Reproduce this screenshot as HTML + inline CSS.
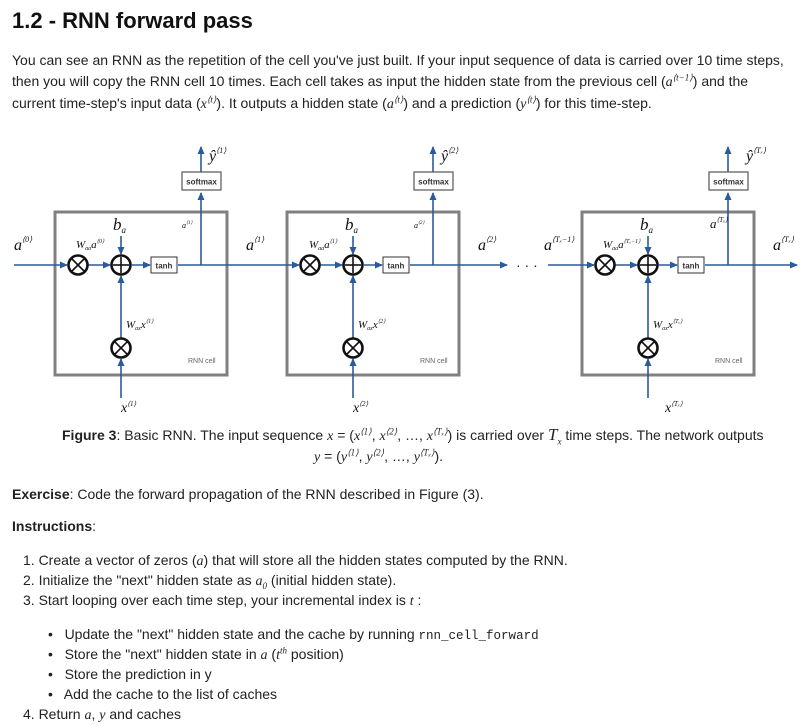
<!DOCTYPE html>
<html><head><meta charset="utf-8"><style>
body{margin:0;background:#fff;width:803px;height:726px;overflow:hidden;position:relative;font-family:"Liberation Sans",Arial,sans-serif;color:#222;}
.t{position:absolute;white-space:nowrap;font-size:14px;line-height:16px;}
.m{font-family:"Liberation Serif",serif;font-style:italic;}
sup,sub{font-size:9px;line-height:0;}
h1{position:absolute;left:12px;top:8px;margin:0;font-size:22px;font-weight:bold;color:#111;}
code{font-family:"Liberation Mono",monospace;font-size:12.5px;}
</style></head><body>
<h1>1.2 - RNN forward pass</h1>
<div class="t" style="left:12px;top:52px">You can see an RNN as the repetition of the cell you've just built. If your input sequence of data is carried over 10 time steps,</div>
<div class="t" style="left:12px;top:73px">then you will copy the RNN cell 10 times. Each cell takes as input the hidden state from the previous cell (<span class="m">a</span><sup class="m">⟨t−1⟩</sup>) and the</div>
<div class="t" style="left:12px;top:95px">current time-step's input data (<span class="m">x</span><sup class="m">⟨t⟩</sup>). It outputs a hidden state (<span class="m">a</span><sup class="m">⟨t⟩</sup>) and a prediction (<span class="m">y</span><sup class="m">⟨t⟩</sup>) for this time-step.</div>

<svg style="position:absolute;left:0;top:0" width="803" height="420">
<defs>
<marker id="ar" markerWidth="8" markerHeight="8" refX="7" refY="4" orient="auto" markerUnits="userSpaceOnUse"><path d="M0,0.5 L8,4 L0,7.5z" fill="#2a5b9a"/></marker>
<g id="cell">
<rect x="55" y="212" width="172" height="163" fill="none" stroke="#808080" stroke-width="3"/>
<g stroke="#2a5b9a" stroke-width="1.6" fill="none">
<line x1="88" y1="265" x2="110" y2="265" marker-end="url(#ar)"/>
<line x1="132" y1="265" x2="150" y2="265" marker-end="url(#ar)"/>
<line x1="178" y1="265" x2="201" y2="265"/>
<line x1="201" y1="265" x2="201" y2="193" marker-end="url(#ar)"/>
<line x1="201" y1="172" x2="201" y2="147" marker-end="url(#ar)"/>
<line x1="121" y1="236" x2="121" y2="254" marker-end="url(#ar)"/>
<line x1="121" y1="338" x2="121" y2="276" marker-end="url(#ar)"/>
<line x1="121" y1="398" x2="121" y2="359" marker-end="url(#ar)"/>
</g>
<g stroke="#111" stroke-width="2.6" fill="#fff">
<circle cx="78" cy="265" r="9.5"/><circle cx="121" cy="265" r="9.5"/><circle cx="121" cy="348" r="9.5"/>
</g>
<g stroke="#111" stroke-width="1.6">
<line x1="71.5" y1="258.5" x2="84.5" y2="271.5"/><line x1="84.5" y1="258.5" x2="71.5" y2="271.5"/>
<line x1="114.5" y1="341.5" x2="127.5" y2="354.5"/><line x1="127.5" y1="341.5" x2="114.5" y2="354.5"/>
<line x1="121" y1="257" x2="121" y2="273"/><line x1="113" y1="265" x2="129" y2="265"/>
</g>
<rect x="151" y="257" width="26" height="16" fill="#fff" stroke="#333" stroke-width="1"/>
<text x="164" y="268.5" font-size="8" font-weight="bold" text-anchor="middle" fill="#333" font-family="Liberation Sans">tanh</text>
<rect x="182" y="172" width="39" height="18" fill="#fff" stroke="#555" stroke-width="1.2"/>
<text x="201.5" y="184.5" font-size="8" font-weight="bold" text-anchor="middle" fill="#333" font-family="Liberation Sans">softmax</text>
<text x="188" y="363" font-size="7" fill="#666" font-family="Liberation Sans">RNN cell</text>
<text x="113" y="230" font-size="17" font-style="italic" font-family="Liberation Serif" fill="#111">b<tspan font-size="9" dy="3">a</tspan></text>
</g>
</defs>
<use href="#cell"/>
<use href="#cell" transform="translate(232,0)"/>
<use href="#cell" transform="translate(527,0)"/>
<g stroke="#2a5b9a" stroke-width="1.6">
<line x1="14" y1="265" x2="67" y2="265" marker-end="url(#ar)"/>
<line x1="201" y1="265" x2="299" y2="265" marker-end="url(#ar)"/>
<line x1="433" y1="265" x2="507" y2="265" marker-end="url(#ar)"/>
<line x1="548" y1="265" x2="594" y2="265" marker-end="url(#ar)"/>
<line x1="728" y1="265" x2="797" y2="265" marker-end="url(#ar)"/>
</g>
<text x="516" y="270" font-size="14" fill="#222">· · ·</text>
<g font-family="Liberation Serif" font-style="italic" fill="#111">
<text x="14" y="250" font-size="16">a<tspan font-size="8" dy="-8">⟨0⟩</tspan></text>
<text x="76" y="248" font-size="11">W<tspan font-size="6" dy="2">aa</tspan><tspan dy="-2">a</tspan><tspan font-size="6" dy="-5">⟨0⟩</tspan></text>
<text x="246" y="250" font-size="16">a<tspan font-size="8" dy="-8">⟨1⟩</tspan></text>
<text x="309" y="248" font-size="11">W<tspan font-size="6" dy="2">aa</tspan><tspan dy="-2">a</tspan><tspan font-size="6" dy="-5">⟨1⟩</tspan></text>
<text x="478" y="250" font-size="16">a<tspan font-size="8" dy="-8">⟨2⟩</tspan></text>
<text x="544" y="250" font-size="16">a<tspan font-size="8" dy="-8">⟨Tₓ−1⟩</tspan></text>
<text x="603" y="248" font-size="11">W<tspan font-size="6" dy="2">aa</tspan><tspan dy="-2">a</tspan><tspan font-size="6" dy="-5">⟨Tₓ−1⟩</tspan></text>
<text x="773" y="250" font-size="16">a<tspan font-size="8" dy="-8">⟨Tₓ⟩</tspan></text>
<text x="126" y="328" font-size="11">W<tspan font-size="6" dy="2">ax</tspan><tspan dy="-2">x</tspan><tspan font-size="6" dy="-5">⟨1⟩</tspan></text>
<text x="358" y="328" font-size="11">W<tspan font-size="6" dy="2">ax</tspan><tspan dy="-2">x</tspan><tspan font-size="6" dy="-5">⟨2⟩</tspan></text>
<text x="653" y="328" font-size="11">W<tspan font-size="6" dy="2">ax</tspan><tspan dy="-2">x</tspan><tspan font-size="6" dy="-5">⟨Tₓ⟩</tspan></text>
<text x="182" y="228" font-size="8">a<tspan font-size="5" dy="-4">⟨1⟩</tspan></text>
<text x="414" y="228" font-size="8">a<tspan font-size="5" dy="-4">⟨2⟩</tspan></text>
<text x="710" y="228" font-size="13">a<tspan font-size="7" dy="-6">⟨Tₓ⟩</tspan></text>
<text x="209" y="161" font-size="16">ŷ<tspan font-size="8" dy="-8">⟨1⟩</tspan></text>
<text x="441" y="161" font-size="16">ŷ<tspan font-size="8" dy="-8">⟨2⟩</tspan></text>
<text x="746" y="161" font-size="16">ŷ<tspan font-size="8" dy="-8">⟨Tₓ⟩</tspan></text>
<text x="121" y="412" font-size="14">x<tspan font-size="7" dy="-6">⟨1⟩</tspan></text>
<text x="353" y="412" font-size="14">x<tspan font-size="7" dy="-6">⟨2⟩</tspan></text>
<text x="665" y="412" font-size="14">x<tspan font-size="7" dy="-6">⟨Tₓ⟩</tspan></text>
</g>
</svg>

<div class="t" style="left:62px;top:427px"><b>Figure 3</b>: Basic RNN. The input sequence <span class="m">x</span> = (<span class="m">x</span><sup class="m">⟨1⟩</sup>, <span class="m">x</span><sup class="m">⟨2⟩</sup>, …, <span class="m">x</span><sup class="m">⟨Tₓ⟩</sup>) is carried over <span class="m" style="font-size:17px">T<sub style="font-size:9px">x</sub></span> time steps. The network outputs</div>
<div class="t" style="left:314px;top:448px"><span class="m">y</span> = (<span class="m">y</span><sup class="m">⟨1⟩</sup>, <span class="m">y</span><sup class="m">⟨2⟩</sup>, …, <span class="m">y</span><sup class="m">⟨Tₓ⟩</sup>).</div>
<div class="t" style="left:12px;top:486px"><b>Exercise</b>: Code the forward propagation of the RNN described in Figure (3).</div>
<div class="t" style="left:12px;top:518px"><b>Instructions</b>:</div>
<div class="t" style="left:23px;top:552px">1. Create a vector of zeros (<span class="m">a</span>) that will store all the hidden states computed by the RNN.</div>
<div class="t" style="left:23px;top:572px">2. Initialize the "next" hidden state as <span class="m">a</span><sub class="m">0</sub> (initial hidden state).</div>
<div class="t" style="left:23px;top:592px">3. Start looping over each time step, your incremental index is <span class="m">t</span> :</div>
<div class="t" style="left:48px;top:626px">•&nbsp;&nbsp; Update the "next" hidden state and the cache by running <code>rnn_cell_forward</code></div>
<div class="t" style="left:48px;top:646px">•&nbsp;&nbsp; Store the "next" hidden state in <span class="m">a</span> (<span class="m">t<sup>th</sup></span> position)</div>
<div class="t" style="left:48px;top:666px">•&nbsp;&nbsp; Store the prediction in y</div>
<div class="t" style="left:48px;top:686px">•&nbsp;&nbsp; Add the cache to the list of caches</div>
<div class="t" style="left:23px;top:706px">4. Return <span class="m">a</span>, <span class="m">y</span> and caches</div>
</body></html>
